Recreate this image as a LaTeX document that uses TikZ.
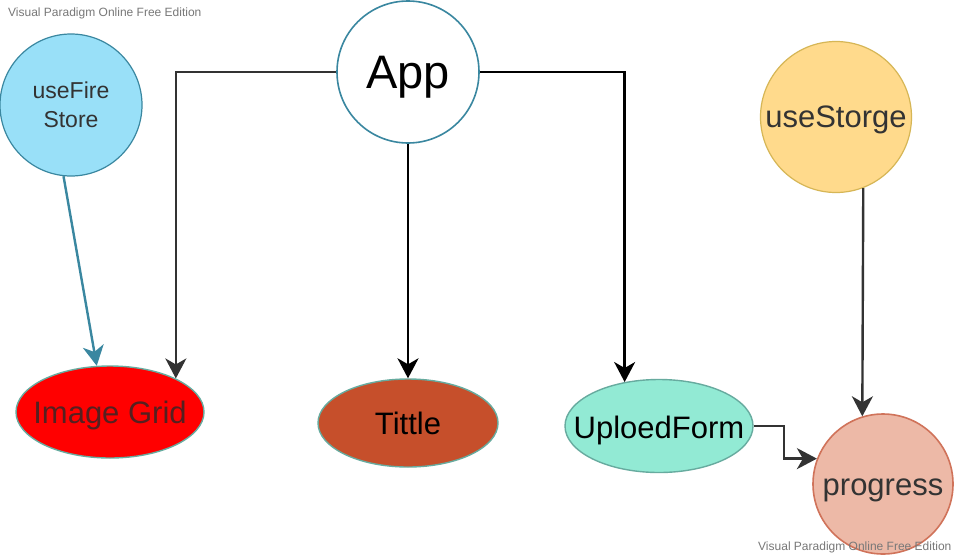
\documentclass[tikz,border=0pt]{standalone}
\usepackage{fontspec}
\setmainfont{Liberation Sans}
\usetikzlibrary{arrows.meta,shapes.geometric}
\definecolor{teal1}{RGB}{58,135,160}
\definecolor{fsfill}{RGB}{153,224,248}
\definecolor{usfill}{RGB}{255,218,140}
\definecolor{usdraw}{RGB}{214,182,86}
\definecolor{elldraw}{RGB}{103,171,159}
\definecolor{ttfill}{RGB}{198,79,43}
\definecolor{uffill}{RGB}{146,234,212}
\definecolor{prfill}{RGB}{237,185,167}
\definecolor{prdraw}{RGB}{208,115,90}
\definecolor{txt}{RGB}{51,51,51}
\definecolor{igtxt}{RGB}{85,32,32}
\definecolor{wm}{RGB}{120,120,120}
\definecolor{ln}{RGB}{51,51,51}
\tikzset{
  circ/.style={circle,inner sep=0pt,line width=1.2pt},
  ell/.style={ellipse,inner sep=0pt,line width=1.4pt,draw=elldraw},
  big/.style={font=\fontsize{31}{36}\selectfont},
  bl/.style={text height=#1,text depth=0pt},
  conn/.style={line width=2.4pt,-{Stealth[length=20pt,width=21pt,inset=6pt]}},
  wmark/.style={font=\fontsize{12}{14}\selectfont,text=wm,inner sep=0pt,anchor=base west}
}
\newcommand{\zw}[1]{\makebox[0pt]{#1}}
\begin{document}
\begin{tikzpicture}[x=1pt,y=-1pt]
\useasboundingbox[fill=white] (0,0) rectangle (956,555);
% nodes
\node[circ,draw=teal1,fill=fsfill,minimum size=142pt,text=txt,align=center,
  font=\fontsize{23}{29}\selectfont] (fs) at (71,105) {useFire\\Store};
\node[circ,draw=teal1,fill=white,line width=1.6pt,minimum size=142pt,bl=32pt,
  font=\fontsize{47}{52}\selectfont] (app) at (408,72) {App};
\node[circ,draw=usdraw,fill=usfill,minimum size=151pt,text=txt,big,bl=20pt] (us) at (836,117) {useStorge};
\node[ell,fill=red,minimum width=188pt,minimum height=92pt,text=igtxt,big,bl=22pt] (ig) at (110,412) {\zw{Image Grid}};
\node[ell,fill=ttfill,minimum width=180pt,minimum height=88pt,text=black,big,bl=23pt] (tt) at (408,423) {\zw{Tittle}};
\node[ell,fill=uffill,minimum width=188pt,minimum height=93pt,text=black,big,bl=24pt] (uf) at (659,426) {\zw{UploedForm}};
\node[circ,draw=prdraw,fill=prfill,line width=1.6pt,minimum size=140pt,text=txt,big,bl=22pt] (pr) at (883,484) {progress};
% watermarks
\node[wmark] (wm1) at (8,16) {Visual Paradigm Online Free Edition};
\node[wmark] (wm2) at (758,550) {Visual Paradigm Online Free Edition};
% connectors
\draw[conn,draw=teal1] (fs.-96) -- (ig.106);
\draw[conn,draw=ln] (app.west) -| (ig.27);
\draw[conn,draw=black] (app.south) -- (tt.north);
\draw[conn,draw=black] (app.east) -| (uf.128);
\draw[conn,draw=ln] (us.-69) -- (pr.107);
\draw[conn,draw=ln] (uf.east) -- ++(30,0) |- (pr.159);
\end{tikzpicture}
\end{document}
